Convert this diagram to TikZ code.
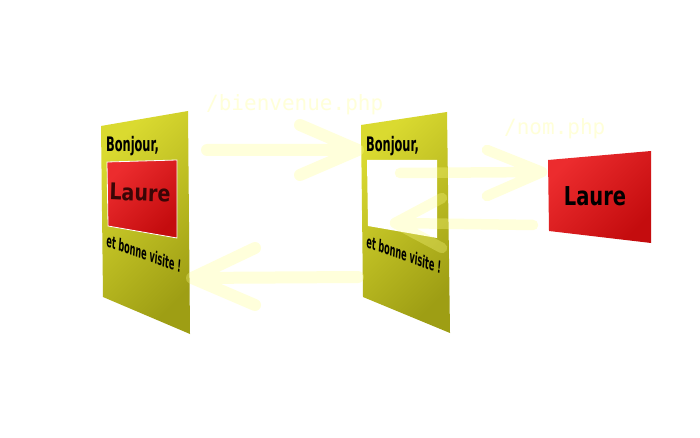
\documentclass[tikz,border=0pt]{standalone}
\usepackage{fontspec}
\setmainfont{DejaVu Sans}
\setmonofont{DejaVu Sans Mono}
\usetikzlibrary{calc}
\definecolor{pageyl}{HTML}{DADA30}
\definecolor{pageol}{HTML}{9E9E14}
\definecolor{redlt}{HTML}{EC2C2E}
\definecolor{reddk}{HTML}{C40C0E}
\definecolor{paleyl}{HTML}{FFFF88}
\definecolor{urlyl}{HTML}{FFFFD9}
\definecolor{inkred}{HTML}{3A0606}
\tikzset{
  pg/.style={top color=pageyl, bottom color=pageol, shading angle=45},
  pred/.style={top color=redlt, bottom color=reddk, shading angle=45},
  ar/.style={draw=paleyl, draw opacity=0.3, line width=12pt,
             line cap=round, line join=round},
  url/.style={text=urlyl, font=\fontsize{21}{24}\selectfont\ttfamily, inner sep=0pt},
  hi/.style={font=\bfseries\fontsize{20}{22}\selectfont, xscale=0.57, inner sep=0pt},
  bye/.style={font=\bfseries\fontsize{17}{19}\selectfont, xscale=0.48, rotate=-10, inner sep=0pt},
  who/.style={font=\bfseries\fontsize{23}{26}\selectfont, inner sep=0pt},
}

\begin{document}
\begin{tikzpicture}[x=1pt, y=-1pt]
  \useasboundingbox[fill=white] (0,0) rectangle (700,438);
  % pages
  \shade[pg] (101,126) coordinate (p1) -- (188,111) -- (190,334) -- (103,297) -- cycle;
  \shade[pred, draw=white, line width=0.8pt] (107,162) -- (177,160) -- (177,238) -- (108,226) -- cycle;
  \shade[pg] (361,125) coordinate (p2) -- (447,112) -- (450,333) -- (363,297) -- cycle;
  \fill[white] (367,160) -- (437,160) -- (437,238) -- (368,226) -- cycle;
  \shade[pred] (548,160) coordinate (p3) -- (651,151) -- (651,243) -- (549,231) -- cycle;
  % texts
  \node[hi, anchor=base west] (bj1) at (106,152) {Bonjour,};
  \node[who, text=inkred, xscale=0.83, rotate=-2] (nm1) at (140,193) {Laure};
  \node[bye, anchor=base west] (bv1) at (106,246) {et bonne visite !};
  \node[hi, anchor=base west] (bj2) at (366,152) {Bonjour,};
  \node[bye, anchor=base west] (bv2) at (366,247) {et bonne visite !};
  \node[who, font=\bfseries\fontsize{26}{28}\selectfont, xscale=0.75] (nm2) at (595,196) {Laure};
  \node[url, anchor=base west] (bvn) at (206,111) {/bienvenue.php};
  \node[url, anchor=base west] (nom) at (504,135) {/nom.php};
  % arrows
  \coordinate (a1s) at (207,150);
  \coordinate (a1t) at (358,150);
  \coordinate (a2s) at (358,277);
  \coordinate (a2t) at (192,278);
  \coordinate (a3s) at (400,173);
  \coordinate (a3t) at (542,172);
  \coordinate (a4s) at (533,225);
  \coordinate (a4t) at (395,223);
  \draw[ar] (a1s) -- (a1t) ++(-58,-25) -- (a1t) -- ++(-58,25);
  \draw[ar] (a2s) -- (a2t) ++(63,-30) -- (a2t) -- ++(63,27);
  \draw[ar, line width=10.5pt] (a3s) -- (a3t) ++(-55,-22) -- (a3t) -- ++(-55,24);
  \draw[ar, line width=10.5pt] (a4s) -- (a4t) ++(47,-25) -- (a4t) -- ++(47,25);
\end{tikzpicture}
\end{document}
